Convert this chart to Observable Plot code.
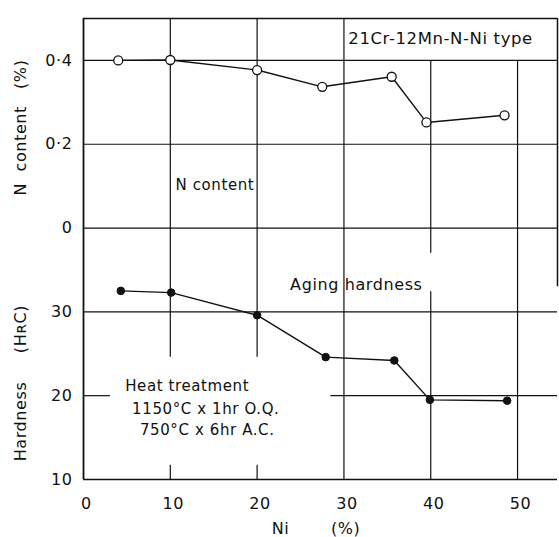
<!DOCTYPE html>
<html><head><meta charset="utf-8">
<script src="https://cdn.jsdelivr.net/npm/d3@7"></script>
<script src="https://cdn.jsdelivr.net/npm/@observablehq/plot@0.6"></script>
<style>
html,body{margin:0;padding:0;background:#fff;}
svg{font-family:"DejaVu Sans",sans-serif;}
svg text{letter-spacing:0.6px;}
</style>
</head><body><div id="chart"></div>
<script>
// ---- data ----
const niN = [4, 10, 20, 27.5, 35.5, 39.5, 48.5];
const nContent = [0.400, 0.401, 0.377, 0.337, 0.361, 0.252, 0.269];
const niH = [4.3, 10.1, 20, 27.9, 35.8, 39.9, 48.8];
const hardness = [32.5, 32.3, 29.6, 24.6, 24.2, 19.5, 19.4];
const xTicks = [0, 10, 20, 30, 40, 50];
const hardTicks = [10, 20, 30];
const nTicks = [0, 0.2, 0.4];
const nTickLabels = ["0", "0·2", "0·4"];

// N content panel sits above hardness panel: N=0 aligns with HRC 40, 0.1 % N = 5 units
const nToY = n => 40 + 50 * n;

const nData = niN.map((x, i) => ({x, y: nToY(nContent[i])}));
const hData = niH.map((x, i) => ({x, y: hardness[i]}));

const XMAX = 54.6, YMIN = 10, YMAX = 65;
const tickVals = [...hardTicks, ...nTicks.map(nToY)];
const tickLab = new Map([...hardTicks.map(t => [t, String(t)]), ...nTicks.map((t, i) => [nToY(t), nTickLabels[i]])]);

const ln = {stroke: "#111", strokeWidth: 1.2};

const chart = Plot.plot({
  width: 559, height: 537,
  marginLeft: 83, marginTop: 18, marginRight: 2, marginBottom: 58,
  x: {domain: [0, XMAX]},
  y: {domain: [YMIN, YMAX]},
  style: {fontFamily: "DejaVu Sans, sans-serif", background: "#fff", color: "#111"},
  marks: [
    // horizontal grid
    Plot.ruleY([30, 40, 50, 60], {x1: 0, x2: XMAX, ...ln}),
    Plot.ruleY([20], {x1: 0, x2: 3.1, ...ln}),
    Plot.ruleY([20], {x1: 28.5, x2: XMAX, ...ln}),
    // vertical grid
    Plot.ruleX([10, 20], {y1: 24.6, y2: YMAX, ...ln}),
    Plot.ruleX([10, 20], {y1: YMIN, y2: 11.7, ...ln}),
    Plot.ruleX([30], {y1: YMIN, y2: YMAX, ...ln}),
    Plot.ruleX([40], {y1: 37, y2: 60, ...ln}),
    Plot.ruleX([40], {y1: YMIN, y2: 32.4, ...ln}),
    Plot.ruleX([50], {y1: YMIN, y2: 60, ...ln}),
    // frame
    Plot.ruleX([0], {y1: YMIN, y2: YMAX, stroke: "#111", strokeWidth: 1.8}),
    Plot.ruleX([XMAX], {y1: 33, y2: YMAX, stroke: "#111", strokeWidth: 1.5}),
    Plot.ruleY([YMIN, YMAX], {x1: 0, x2: XMAX, stroke: "#111", strokeWidth: 1.6}),
    // axes
    Plot.axisY({ticks: tickVals, tickFormat: d => tickLab.get(d), tickSize: 0, tickPadding: 11, fontSize: 16, label: null}),
    Plot.axisX({ticks: xTicks, tickSize: 0, tickPadding: 18, fontSize: 16, dx: 3, label: null}),
    // N content series
    Plot.line(nData, {x: "x", y: "y", stroke: "#111", strokeWidth: 1.4}),
    Plot.dot(nData, {x: "x", y: "y", r: 4.5, fill: "#fff", stroke: "#111", strokeWidth: 1.3}),
    // hardness series
    Plot.line(hData, {x: "x", y: "y", stroke: "#111", strokeWidth: 1.4}),
    Plot.dot(hData, {x: "x", y: "y", r: 3.8, fill: "#111", stroke: "#111", strokeWidth: 1}),
    // annotations
    Plot.text(["21Cr-12Mn-N-Ni type"], {x: 30.5, y: 62.6, text: d => d, textAnchor: "start", fontSize: 16.5}),
    Plot.text(["N content"], {x: 10.6, y: 45.1, text: d => d, textAnchor: "start", fontSize: 15}),
    Plot.text(["Aging hardness"], {x: 23.8, y: 33.2, text: d => d, textAnchor: "start", fontSize: 16}),
    Plot.text(["Heat treatment"], {x: 4.8, y: 21.1, text: d => d, textAnchor: "start", fontSize: 15}),
    Plot.text(["1150°C x 1hr O.Q."], {x: 5.6, y: 18.4, text: d => d, textAnchor: "start", fontSize: 15}),
    Plot.text(["750°C x 6hr A.C."], {x: 6.5, y: 15.9, text: d => d, textAnchor: "start", fontSize: 15}),
    Plot.text(["Ni"], {x: 22.7, y: 4.15, text: d => d, fontSize: 16}),
    Plot.text(["(%)"], {x: 30.2, y: 4.15, text: d => d, fontSize: 16}),
    Plot.text(["N  content   (%)"], {x: -7.2, y: 52.0, text: d => d, rotate: -90, fontSize: 16}),
    Plot.text(["Hardness     (HʀC)"], {x: -7.2, y: 21.5, text: d => d, rotate: -90, fontSize: 16})
  ]
});
document.getElementById("chart").append(chart);
</script>
</body></html>
